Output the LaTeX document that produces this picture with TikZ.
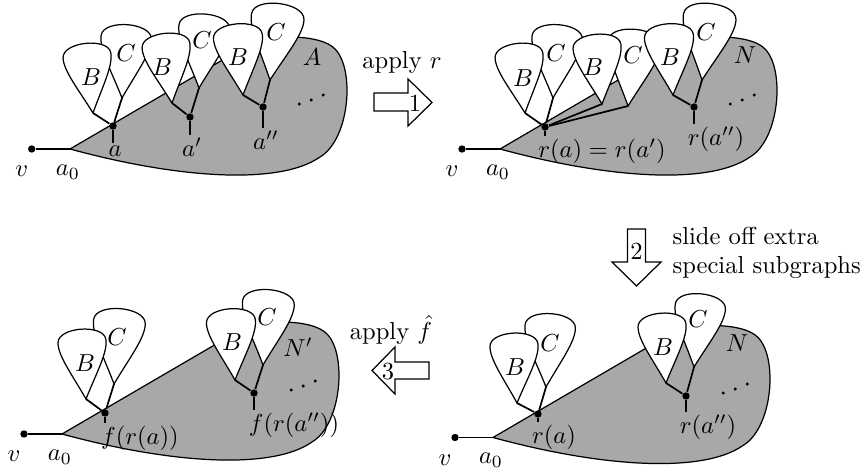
\documentclass[tikz,border=0pt]{standalone}
\usetikzlibrary{positioning,calc}
\definecolor{regiongray}{gray}{0.66}
\tikzset{
  lobe/.pic={\draw[fill=white] (0,0) .. controls (-12,-25) and (-25,-45) .. (-24,-58)
    .. controls (-23,-74) and (23,-74) .. (24,-58) .. controls (25,-45) and (12,-25) .. (0,0) -- cycle;},
  region/.pic={\draw[fill=regiongray] (0,0) -- (185,-108) .. controls (200,-113) and (250,-116) .. (265,-100)
    .. controls (285,-80) and (280,-10) .. (250,8) .. controls (210,36) and (110,30) .. (0,0) -- cycle;},
  vdot/.style={circle,fill,inner sep=0pt,minimum size=3pt},
  dlbl/.style={inner sep=1pt},
  tipline/.style={line width=0.7pt},
  blockarrow/.style={draw,fill=white}
}
\begin{document}
\begin{tikzpicture}[x=0.407pt,y=-0.407pt,line width=0.5pt]
  \useasboundingbox (0,0) rectangle (864,473);
  \coordinate (a0p) at (70,149); \coordinate (a0q) at (500,149);
  \coordinate (a0r) at (62,434); \coordinate (a0s) at (493,437.5);
  \foreach \p in {p,q,r,s} \pic at (a0\p) {region};
  \foreach \n/\x/\y/\rot/\sc/\lx/\ly in {
    c11/122/98/-4/1.05/126/53, c12/199/88/-5/1.06/202/40, c13/270/80/-7/1.1/276/32,
    c21/553/98/-4/1.05/556/53, c22/628/106/-6/1.1/633/55, c23/702/80/-7/1.1/706/32,
    c31/114/384/-5/1.08/117/337, c32/263/365/-5/1.08/267/317,
    c41/546/387/-4/1.05/550/343, c42/694/367/-6/1.05/698/319}
    {\coordinate (\n) at (\x,\y); \pic[rotate=\rot,scale=\sc] at (\n) {lobe}; \node (l\n) at (\lx,\ly) {$C$};}
  \foreach \n/\x/\y/\rot/\sc/\lx/\ly in {
    b11/93/113/6/1/91/77, b12/172/103/6/1/162/67, b13/243/95/5/1.02/238/57,
    b21/525/113/6/1/523/78, b22/602/104/5/1/593/67, b23/673/95/4/1.02/670/57,
    b31/86/399/4/1/85/363, b32/235/380/4/1.02/232/342,
    b41/517/403/3/1/515/367, b42/666/383/4/1/663/347}
    {\coordinate (\n) at (\x,\y); \pic[rotate=\rot,scale=\sc] at (\n) {lobe}; \node (l\n) at (\lx,\ly) {$B$};}
  \foreach \d/\x/\y in {d11/113/126, d12/190/117, d13/263/107, d21/545/127, d23/694/107,
    d31/105/413, d32/254/393, d41/538/414, d42/686/396}
    \node[vdot] (\d) at (\x,\y) {};
  \foreach \t/\d in {b11/d11, c11/d11, b12/d12, c12/d12, b13/d13, c13/d13,
    b21/d21, c21/d21, b22/d21, c22/d21, b23/d23, c23/d23,
    b31/d31, c31/d31, b32/d32, c32/d32, b41/d41, c41/d41, b42/d42, c42/d42}
    \draw[tipline] (\t) -- (\d);
  \node[dlbl] (ld11) at (115,151.5) {$a$};
  \node[dlbl] (ld12) at (192,147.5) {$a'$};
  \node[dlbl] (ld13) at (266,140) {$a''$};
  \node[dlbl] (ld21) at (602,151.5) {$r(a)=r(a')$};
  \node[dlbl] (ld23) at (716,139) {$r(a'')$};
  \node[dlbl] (ld31) at (140,438.5) {$f(r(a))$};
  \node[dlbl] (ld32) at (294,425) {$f(r(a''))$};
  \node[dlbl] (ld41) at (554,437) {$r(a)$};
  \node[dlbl] (ld42) at (708,427) {$r(a'')$};
  \foreach \d in {d11,d12,d13,d21,d23,d31,d32,d41,d42} \draw (\d) -- (\d |- l\d.north);
  \node[vdot] (vp) at (31.7,149) {}; \node[vdot] (vq) at (462,149) {};
  \node[vdot] (vr) at (24,434) {}; \node[vdot] (vs) at (455,437.5) {};
  \foreach \p in {p,q,r,s} {
    \draw (v\p) -- (a0\p);
    \node (lv\p) at ($(v\p)+(-10,22.5)$) {$v$};
    \node (la0\p) at ($(a0\p)+(-2,23)$) {$a_0$};}
  \node (nA) at (312,57) {$A$}; \node (nN) at (745,55) {$N$};
  \node (nN1) at (298,347) {$N'$}; \node (nN2) at (737,343) {$N$};
  \node[rotate=20,scale=1.15] (ddp) at (312,101) {$\cdots$}; \node[rotate=20,scale=1.15] (ddq) at (743,101) {$\cdots$};
  \node[rotate=20,scale=1.15] (ddr) at (304,387) {$\cdots$}; \node[rotate=20,scale=1.15] (dds) at (736,390) {$\cdots$};
  \draw[blockarrow] (374,93) -- (408,93) -- (408,79) -- (432,102.5) -- (408,126) -- (408,111) -- (374,111) -- cycle;
  \draw[blockarrow] (627.5,229) -- (645.5,229) -- (645.5,262) -- (661,262) -- (636.5,286) -- (612,262) -- (627.5,262) -- cycle;
  \draw[blockarrow] (429,362) -- (395,362) -- (395,347) -- (372,370.5) -- (395,394) -- (395,379) -- (429,379) -- cycle;
  \node[inner sep=1pt] (n1) at (415,103.5) {1};
  \node[inner sep=1pt] (n2) at (636.5,251) {2};
  \node[inner sep=1pt] (n3) at (388,371.5) {3};
  \node[inner sep=1pt] (t1) at (402,62) {apply $r$};
  \node[align=left,anchor=west,inner sep=0pt] (t2) at (672,253) {slide off extra\\special subgraphs};
  \node[inner sep=1pt] (t3) at (391,330) {apply $\hat f$};
\end{tikzpicture}
\end{document}
